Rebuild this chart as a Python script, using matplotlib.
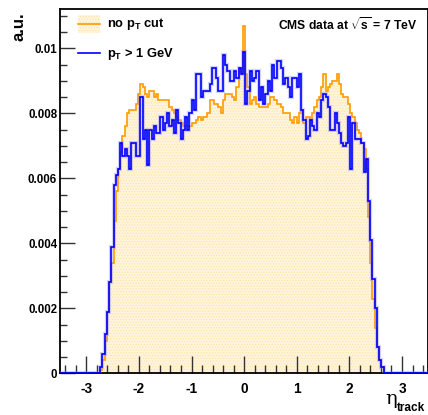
import numpy as np
import matplotlib
matplotlib.use("Agg")
import matplotlib.pyplot as plt
from matplotlib.patches import Rectangle
from matplotlib.lines import Line2D

# ---- data: normalised track-eta distributions, bins centred on k*width ----
x_range = (-3.5, 3.5)
n_bins = 165
pad_bins = 18
no_pt_cut = [
    0.0001, 0.0004, 0.0010, 0.0019, 0.0028, 0.0034, 0.0047, 0.0056, 0.0063, 0.0068,
    0.0073, 0.0076, 0.0080, 0.0081, 0.0081, 0.0081, 0.0083, 0.0086, 0.0089, 0.0088,
    0.0086, 0.0085, 0.0087, 0.0087, 0.0085, 0.0086, 0.0084, 0.0084, 0.0084, 0.0084,
    0.0084, 0.0082, 0.0081, 0.0080, 0.0079, 0.0078, 0.0077, 0.0076, 0.0076, 0.0076,
    0.0076, 0.0077, 0.0077, 0.0078, 0.0079, 0.0078, 0.0079, 0.0079, 0.0080, 0.0084,
    0.0084, 0.0083, 0.0083, 0.0082, 0.0080, 0.0084, 0.0086, 0.0086, 0.0086, 0.0085,
    0.0084, 0.0088, 0.0093, 0.0094, 0.0107, 0.0092, 0.0088, 0.0083, 0.0084, 0.0085,
    0.0083, 0.0082, 0.0082, 0.0082, 0.0082, 0.0083, 0.0085, 0.0085, 0.0084, 0.0083,
    0.0083, 0.0082, 0.0080, 0.0080, 0.0080, 0.0078, 0.0077, 0.0079, 0.0077, 0.0080,
    0.0081, 0.0077, 0.0079, 0.0079, 0.0078, 0.0080, 0.0082, 0.0084, 0.0085, 0.0088,
    0.0092, 0.0087, 0.0088, 0.0089, 0.0090, 0.0090, 0.0092, 0.0089, 0.0086, 0.0085,
    0.0085, 0.0083, 0.0080, 0.0079, 0.0077, 0.0075, 0.0074, 0.0071, 0.0069, 0.0063,
    0.0048, 0.0034, 0.0023, 0.0014, 0.0008, 0.0004, 0.0002, 0.0000, 0.0000,
]
pt_gt_1 = [
    0.0002, 0.0006, 0.0012, 0.0019, 0.0028, 0.0039, 0.0058, 0.0061, 0.0063, 0.0071,
    0.0067, 0.0069, 0.0067, 0.0063, 0.0071, 0.0071, 0.0067, 0.0067, 0.0085, 0.0072,
    0.0075, 0.0064, 0.0075, 0.0072, 0.0076, 0.0074, 0.0074, 0.0079, 0.0075, 0.0077,
    0.0080, 0.0076, 0.0078, 0.0074, 0.0081, 0.0077, 0.0072, 0.0075, 0.0079, 0.0075,
    0.0080, 0.0084, 0.0081, 0.0092, 0.0092, 0.0085, 0.0087, 0.0087, 0.0087, 0.0089,
    0.0094, 0.0094, 0.0091, 0.0087, 0.0087, 0.0098, 0.0095, 0.0093, 0.0090, 0.0090,
    0.0093, 0.0091, 0.0094, 0.0092, 0.0099, 0.0083, 0.0087, 0.0093, 0.0090, 0.0091,
    0.0093, 0.0084, 0.0088, 0.0083, 0.0086, 0.0090, 0.0087, 0.0095, 0.0091, 0.0096,
    0.0096, 0.0094, 0.0089, 0.0091, 0.0088, 0.0085, 0.0091, 0.0091, 0.0088, 0.0092,
    0.0081, 0.0078, 0.0072, 0.0073, 0.0078, 0.0076, 0.0075, 0.0080, 0.0079, 0.0084,
    0.0086, 0.0085, 0.0082, 0.0075, 0.0075, 0.0080, 0.0077, 0.0074, 0.0071, 0.0070,
    0.0071, 0.0079, 0.0063, 0.0077, 0.0072, 0.0072, 0.0072, 0.0071, 0.0062, 0.0066,
    0.0053, 0.0041, 0.0029, 0.0020, 0.0008, 0.0004, 0.0002, 0.0000, 0.0000,
]
x_ticks = [-3, -2, -1, 0, 1, 2, 3]
y_ticks = [0, 0.002, 0.004, 0.006, 0.008, 0.01]
y_tick_labels = ["0", "0.002", "0.004", "0.006", "0.008", "0.01"]
labels = ["no p$_\\mathregular{T}$ cut", "p$_\\mathregular{T}$ > 1 GeV"]

plt.rcParams["font.family"] = ["Liberation Sans", "DejaVu Sans"]
plt.rcParams["font.weight"] = "bold"
plt.rcParams["mathtext.fontset"] = "custom"
plt.rcParams["mathtext.rm"] = "Liberation Sans:bold"
plt.rcParams["mathtext.it"] = "Liberation Sans:bold"
plt.rcParams["mathtext.bf"] = "Liberation Sans:bold"
plt.rcParams["hatch.color"] = "#ffe3a8"
plt.rcParams["hatch.linewidth"] = 0.6

edges = np.linspace(x_range[0], x_range[1], n_bins + 1)
orange_vals = np.pad(np.array(no_pt_cut), pad_bins)
blue_vals = np.pad(np.array(pt_gt_1), pad_bins)

W, H = 428, 415
fig = plt.figure(figsize=(W / 100, H / 100), dpi=100)
ax = fig.add_axes([60 / W, (H - 373.3) / H, (428.3 - 60) / W, (373.3 - 9) / H])

orange = "#ff9c00"
blue = "#0000ff"
fill_c = "#fff5dc"
hatch_c = "#ffe3a8"
ax.stairs(orange_vals, edges, fill=True, facecolor=fill_c, edgecolor=hatch_c,
          hatch="......", linewidth=0, zorder=1)
ax.stairs(orange_vals, edges, color=orange, linewidth=1.2, zorder=2)
ax.stairs(blue_vals, edges, color="#8080ff", linewidth=3.0, alpha=0.35, zorder=3)
ax.stairs(blue_vals, edges, color=blue, linewidth=1.2, zorder=4)

ax.set_xlim(*x_range)
ax.set_ylim(0, 0.01121)
ax.set_xticks(x_ticks)
ax.set_xticklabels([str(t) for t in x_ticks])
ax.set_xticks(np.arange(-3.4, 3.5, 0.2), minor=True)
ax.set_yticks(y_ticks)
ax.set_yticklabels(y_tick_labels)
ax.set_yticks(np.arange(0, 0.0112, 0.0005), minor=True)
ax.tick_params(axis="both", which="both", direction="in", top=False, right=False,
               width=1.0, color="#333333")
ax.tick_params(axis="y", which="major", length=11, labelsize=8.3, pad=2)
ax.tick_params(axis="y", which="minor", length=5)
ax.tick_params(axis="x", which="major", length=12, labelsize=9.8, pad=6)
ax.tick_params(axis="x", which="minor", length=6)
for s in ax.spines.values():
    s.set_linewidth(1.3)
    s.set_color("black")


# legend drawn in figure pixel coordinates (top-left origin)
def fx(px):
    return px / W


def fy(py):
    return 1 - py / H


fig.add_artist(Rectangle((fx(78), fy(33)), fx(100) - fx(78), fy(15) - fy(33),
                         transform=fig.transFigure, facecolor=fill_c,
                         edgecolor=hatch_c, hatch="......", linewidth=0))
fig.add_artist(Line2D([fx(78), fx(100)], [fy(24.5), fy(24.5)],
                      transform=fig.transFigure, color=orange, linewidth=1.2))
fig.add_artist(Line2D([fx(78), fx(100)], [fy(53.5), fy(53.5)],
                      transform=fig.transFigure, color=blue, linewidth=1.2))
fig.text(fx(107), fy(24.5), labels[0], ha="left", va="center", fontsize=9.3)
fig.text(fx(107), fy(53.5), labels[1], ha="left", va="center", fontsize=9.3)

fig.text(fx(417), fy(25), "CMS data at $\\sqrt{s}$ = 7 TeV", ha="right",
         va="center", fontsize=8.7, fontweight="bold")
fig.text(fx(19), fy(12), "a.u.", rotation=90, ha="center", va="top",
         fontsize=12, fontweight="bold")
fig.text(fx(391), fy(404), "\u03b7", ha="center", va="baseline",
         fontsize=14, family="DejaVu Serif", fontweight="normal")
fig.text(fx(397), fy(411), "track", ha="left", va="baseline",
         fontsize=8.5, fontweight="bold")

fig.savefig("out.png", dpi=100)
